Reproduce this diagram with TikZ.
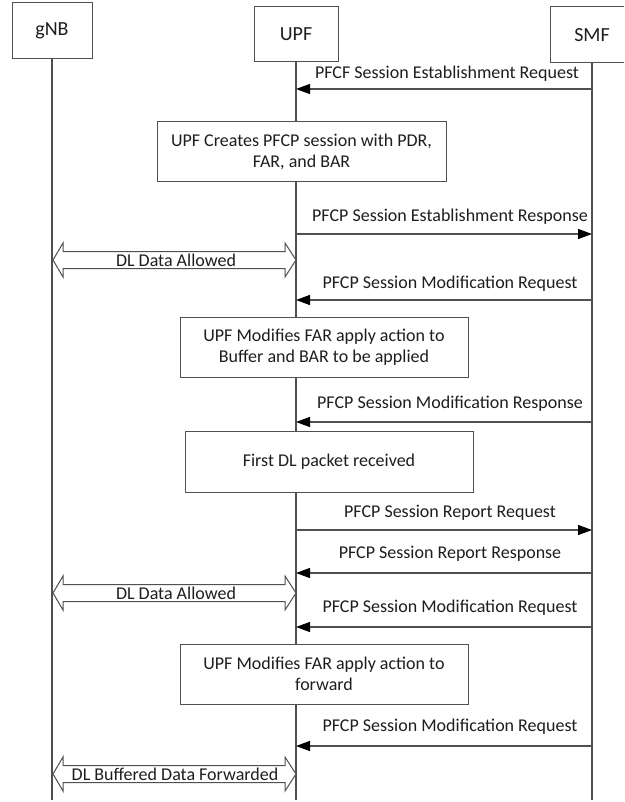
\documentclass[tikz,border=0pt]{standalone}
\usepackage{fontspec}
\setmainfont{Carlito}
\usetikzlibrary{arrows.meta}
\definecolor{lc}{RGB}{80,80,80}
\definecolor{tc}{RGB}{30,30,30}
\newcommand{\DArrowShape}[1]{%
  \draw[darr] (53,#1) -- (63,#1-17) -- (63,#1-8.5) -- (285,#1-8.5) -- (285,#1-17)
    -- (296,#1) -- (285,#1+17) -- (285,#1+8.5) -- (63,#1+8.5) -- (63,#1+17) -- cycle;}
\begin{document}
\begin{tikzpicture}[x=1pt,y=-1pt,
  hdr/.style={draw=lc, line width=1pt, fill=white, minimum width=80pt, minimum height=56pt,
    font=\fontsize{20}{24}\selectfont, text=tc, inner sep=0pt},
  life/.style={draw=lc, line width=1.1pt},
  msg/.style={draw=lc, line width=1.3pt, -{Triangle[length=14pt,width=10pt,color=black]}},
  lbl/.style={font=\fontsize{18}{21.6}\selectfont, text=tc, inner sep=0pt, align=center},
  procbox/.style={draw=lc, line width=1pt, fill=white, font=\fontsize{18}{21.6}\selectfont,
    text=tc, align=center, inner sep=0pt, minimum height=60pt},
  darr/.style={draw=lc, line width=1pt, fill=white, line join=miter}
]
\useasboundingbox (0,0) rectangle (624,802);
\clip (0,0) rectangle (624,802);
\fill[white] (0,0) rectangle (624,802);

% headers
\node[hdr] (gnb) at (52,31) {gNB};
\node[hdr, minimum width=84pt, minimum height=55pt] (upf) at (296,34.5) {UPF};
\node[hdr, minimum width=84pt, minimum height=56pt] (smf) at (592,35) {SMF};

% lifelines
\coordinate (gnbE) at (52,800);
\coordinate (upfE) at (296,800);
\coordinate (smfE) at (592,800);
\draw[life] (gnb.south) -- (gnbE);
\draw[life] (upf.south) -- (upfE);
\draw[life] (smf.south) -- (smfE);

% message end points
\foreach \n/\y in {1/89,2/234,3/300,4/422,5/530,6/573,7/627,8/746}{
  \coordinate (u\n) at (296,\y);
  \coordinate (s\n) at (592,\y);
}

% 1
\draw[msg] (s1) -- (u1);
\node[lbl] (l1) at (447,74) {PFCF Session Establishment Request};
% box 1
\node[procbox, minimum width=289pt] (b1) at (301.5,152) {UPF Creates PFCP session with PDR,\\FAR, and BAR};
% 2
\draw[msg] (u2) -- (s2);
\node[lbl] (l2) at (450,217) {PFCP Session Establishment Response};
% DL data allowed 1
\DArrowShape{260}
\node[lbl] (d1) at (176,260) {DL Data Allowed};
% 3
\draw[msg] (s3) -- (u3);
\node[lbl] (l3) at (450,284) {PFCP Session Modification Request};
% box 2
\node[procbox, minimum width=288pt] (b2) at (324,347) {UPF Modifies FAR apply action to\\Buffer and BAR to be applied};
% 4
\draw[msg] (s4) -- (u4);
\node[lbl] (l4) at (450,404) {PFCP Session Modification Response};
% box 3
\node[procbox, minimum width=288pt, minimum height=61pt] (b3) at (329,461.5) {First DL packet received};
% 5
\draw[msg] (u5) -- (s5);
\node[lbl] (l5) at (450,513) {PFCP Session Report Request};
% 6
\draw[msg] (s6) -- (u6);
\node[lbl] (l6) at (450,554) {PFCP Session Report Response};
% DL data allowed 2
\DArrowShape{593}
\node[lbl] (d2) at (176,593) {DL Data Allowed};
% 7
\draw[msg] (s7) -- (u7);
\node[lbl] (l7) at (450,608) {PFCP Session Modification Request};
% box 4
\node[procbox, minimum width=288pt] (b4) at (324,674) {UPF Modifies FAR apply action to\\forward};
% 8
\draw[msg] (s8) -- (u8);
\node[lbl] (l8) at (450,727) {PFCP Session Modification Request};
% DL buffered data forwarded
\DArrowShape{774}
\node[lbl] (d3) at (175,774) {DL Buffered Data Forwarded};
\end{tikzpicture}
\end{document}
